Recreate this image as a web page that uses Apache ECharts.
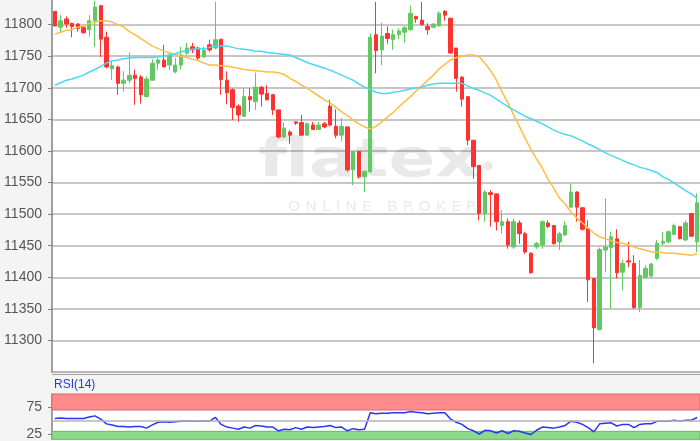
<!DOCTYPE html>
<html><head><meta charset="utf-8">
<script src="https://cdn.jsdelivr.net/npm/echarts@6/dist/echarts.min.js"></script>
<style>html,body{margin:0;padding:0;background:#f4f4f4}#c{width:700px;height:441px}</style>
</head><body><div id="c"></div>
<script>
// [open, close, low, high]
const candles = [
[11821,11798,11797,11821],[11796,11806,11787,11815],[11809,11801,11795,11813],[11802,11797,11780,11803],
[11801,11794,11789,11802],[11796,11787,11786,11798],[11792,11806,11781,11815],[11806,11828,11765,11838],
[11830,11777,11749,11830],[11780,11733,11731,11789],[11730,11735,11712,11743],[11733,11707,11689,11735],
[11707,11712,11694,11726],[11712,11720,11707,11756],[11720,11715,11673,11729],[11717,11689,11675,11720],
[11686,11714,11685,11718],[11712,11739,11711,11745],[11739,11744,11728,11747],[11744,11733,11733,11768],
[11736,11752,11728,11755],[11725,11736,11723,11747],[11736,11752,11729,11765],[11755,11763,11752,11771],
[11765,11760,11755,11771],[11763,11747,11744,11765],[11749,11760,11747,11765],[11768,11760,11757,11776],
[11763,11776,11761,11836],[11777,11713,11689,11777],[11712,11692,11674,11726],[11697,11669,11649,11699],
[11671,11657,11646,11674],[11655,11686,11654,11699],[11686,11681,11662,11699],[11678,11701,11665,11724],
[11701,11690,11670,11703],[11691,11681,11680,11704],[11689,11665,11657,11690],[11665,11622,11620,11665],
[11622,11636,11620,11645],[11630,11625,11611,11633],[11646,11644,11641,11647],[11645,11625,11624,11657],
[11625,11643,11624,11645],[11641,11634,11633,11646],[11634,11641,11633,11646],[11643,11638,11636,11646],
[11671,11641,11639,11681],[11639,11625,11620,11666],[11625,11639,11615,11652],[11638,11570,11567,11639],
[11570,11599,11546,11600],[11599,11559,11556,11599],[11559,11568,11535,11569],[11567,11780,11565,11786],
[11784,11759,11723,11836],[11760,11782,11736,11803],[11786,11778,11770,11797],[11776,11784,11760,11792],
[11784,11790,11777,11794],[11788,11795,11771,11798],[11792,11818,11790,11830],[11813,11809,11803,11814],
[11807,11800,11798,11836],[11797,11792,11784,11802],[11796,11801,11794,11802],[11798,11818,11797,11821],
[11821,11815,11806,11823],[11810,11755,11754,11811],[11763,11715,11694,11763],[11717,11682,11670,11718],
[11686,11617,11609,11686],[11617,11575,11556,11617],[11577,11501,11490,11578],[11501,11535,11488,11538],
[11534,11531,11480,11538],[11532,11488,11474,11533],[11482,11488,11469,11506],[11488,11451,11445,11493],
[11448,11488,11445,11493],[11486,11469,11453,11490],[11469,11440,11437,11472],[11438,11407,11406,11440],
[11448,11453,11445,11456],[11451,11488,11445,11490],[11486,11480,11478,11490],[11482,11453,11452,11483],
[11456,11469,11443,11472],[11467,11482,11465,11489],[11511,11535,11510,11548],[11535,11511,11488,11536],
[11510,11476,11474,11511],[11477,11396,11361,11490],[11398,11320,11264,11398],[11317,11444,11316,11447],
[11443,11448,11408,11525],[11447,11464,11350,11472],[11461,11407,11398,11476],[11408,11422,11379,11428],
[11426,11424,11416,11456],[11422,11352,11350,11435],[11352,11403,11345,11427],[11400,11414,11399,11419],
[11402,11421,11399,11422],[11430,11454,11427,11459],[11454,11457,11451,11472],[11456,11472,11454,11474],
[11468,11482,11466,11485],[11480,11461,11460,11481],[11459,11486,11457,11490],[11501,11465,11464,11502],
[11456,11518,11440,11533]
];
const maShort = [
11785,11788,11791,11792,11796,11798,11802,11804,11806,11806,
11804,11800,11796,11789,11784,11778,11772,11766,11762,11758,
11755,11753,11750,11748,11745,11743,11739,11736,11736,11735,
11734,11733,11731,11729,11728,11727,11726,11725,11725,11724,
11721,11715,11710,11704,11699,11693,11687,11681,11676,11669,
11662,11656,11649,11643,11638,11635,11639,11646,11654,11661,
11670,11678,11686,11695,11703,11712,11720,11730,11737,11744,
11748,11750,11752,11752,11749,11739,11727,11712,11693,11676,
11657,11639,11620,11603,11587,11573,11555,11541,11525,11516,
11503,11494,11486,11478,11470,11464,11461,11458,11455,11454,
11451,11448,11445,11443,11440,11440,11439,11438,11438,11437,
11436,11435,11437
];
const maLong = [
11704,11708,11712,11714,11717,11720,11725,11729,11734,11739,
11743,11744,11746,11747,11748,11748,11748,11748,11749,11750,
11752,11754,11757,11759,11761,11762,11762,11764,11766,11766,
11766,11764,11762,11761,11760,11758,11758,11756,11755,11754,
11753,11752,11748,11744,11740,11737,11734,11731,11728,11724,
11720,11716,11712,11706,11701,11697,11693,11691,11691,11693,
11694,11696,11698,11700,11701,11704,11706,11707,11707,11707,
11707,11707,11703,11699,11696,11692,11688,11682,11676,11670,
11665,11660,11655,11651,11647,11643,11638,11633,11629,11626,
11624,11620,11616,11611,11607,11602,11597,11593,11589,11585,
11581,11578,11574,11572,11569,11566,11559,11555,11549,11543,
11537,11532,11525
];
const rsi14 = [
54,55,54,54,54,54,57,59,53,44,
42,39,39,38,39,39,36,42,47,48,
47,48,49,50,49,49,50,49,56,43,
38,36,34,38,36,41,40,38,38,31,
34,33,37,34,38,37,38,39,41,37,
38,31,35,33,34,65,63,64,64,65,
65,65,67,66,65,63,64,65,65,53,
47,43,35,31,25,32,31,27,31,26,
31,30,27,24,32,38,37,36,38,41,
49,47,43,37,29,44,45,46,40,43,
43,37,43,44,44,49,49,49,51,49,
51,51,56
];
const priceTicks = [11300, 11350, 11400, 11450, 11500, 11550, 11600, 11650, 11700, 11750, 11800];
const rsiTicks = [25, 75];
const rsiMid = 50;
const overbought = [70, 100];
const oversold = [0, 30];
const categories = candles.map((_, i) => 'T' + (i + 1));

const chart = echarts.init(document.getElementById('c'), null, {renderer: 'canvas'});
const font = 'Liberation Sans, Arial, sans-serif';
const wm = 'rgba(0,0,0,0.085)';
chart.setOption({
  animation: false,
  backgroundColor: '#f4f4f4',
  grid: [
    {left: 52, right: 0, top: 0, height: 372, show: true, backgroundColor: '#fff', borderWidth: 0},
    {left: 52, right: 0, top: 394, bottom: 0, show: true, backgroundColor: '#fff', borderWidth: 0}
  ],
  graphic: [
    {type: 'text', z: 1, silent: true, x: 258, y: 162, scaleX: 1.3,
     style: {text: 'flatex', x: 0, y: 0, fill: wm, font: 'bold 53px "DejaVu Sans", sans-serif', verticalAlign: 'middle'}},
    {type: 'circle', z: 1, silent: true, shape: {cx: 488, cy: 166, r: 4.5}, style: {fill: wm}},
    {type: 'text', z: 1, silent: true, x: 288, y: 207, scaleX: 1.12,
     style: {text: 'O N L I N E   B R O K E R', x: 0, y: 0, fill: wm, font: '14px "DejaVu Sans", sans-serif', verticalAlign: 'middle'}},
    {type: 'text', z: 5, silent: true, style: {text: 'RSI(14)', x: 54, y: 385, fill: '#2b35f0', font: '12px ' + font, verticalAlign: 'middle'}},
    {type: 'line', z: 5, silent: true, shape: {x1: 52, y1: 374.5, x2: 700, y2: 374.5}, style: {stroke: '#a0a0a0', lineWidth: 1}}
  ],
  xAxis: [
    {type: 'category', data: categories, gridIndex: 0, boundaryGap: true,
     axisLabel: {show: false}, axisTick: {show: false},
     axisLine: {show: true, lineStyle: {color: '#a0a0a0', width: 1.5}}, splitLine: {show: false}},
    {type: 'category', data: categories, gridIndex: 1, boundaryGap: true,
     axisLabel: {show: false}, axisTick: {show: false}, axisLine: {show: false}, splitLine: {show: false}}
  ],
  yAxis: [
    {type: 'value', gridIndex: 0, min: 11250, max: 11839,
     axisLine: {show: true, lineStyle: {color: '#808080', width: 1.5}},
     axisTick: {show: true, length: 4, customValues: priceTicks, lineStyle: {color: '#808080'}},
     axisLabel: {color: '#555', fontSize: 14, fontFamily: font, margin: 10, customValues: priceTicks,
       formatter: v => String(v)},
     splitLine: {show: true, lineStyle: {color: '#b4b4b4', width: 1.5}}},
    {type: 'value', gridIndex: 1, min: 15, max: 100,
     axisLine: {show: true, lineStyle: {color: '#808080', width: 1.5}},
     axisTick: {show: true, length: 4, customValues: rsiTicks, lineStyle: {color: '#808080'}},
     axisLabel: {color: '#555', fontSize: 14, fontFamily: font, margin: 10, customValues: rsiTicks,
       formatter: v => String(v)},
     splitLine: {show: false}}
  ],
  series: [
    {type: 'candlestick', xAxisIndex: 0, yAxisIndex: 0, data: candles, barWidth: '68%', z: 3,
     itemStyle: {color: '#62c962', color0: '#ff3232', borderColor: '#62c962', borderColor0: '#ff3232', borderWidth: 1}},
    {type: 'line', xAxisIndex: 0, yAxisIndex: 0, data: maShort, symbol: 'none', z: 4,
     lineStyle: {color: '#ffbd45', width: 1.5}},
    {type: 'line', xAxisIndex: 0, yAxisIndex: 0, data: maLong, symbol: 'none', z: 4,
     lineStyle: {color: '#4cd8f4', width: 1.5}},
    {type: 'line', xAxisIndex: 1, yAxisIndex: 1, data: rsi14, symbol: 'none', z: 4,
     lineStyle: {color: '#2b35f0', width: 1.5},
     markLine: {silent: true, symbol: 'none', label: {show: false},
       lineStyle: {color: '#b4b4b4', width: 1.5, type: 'solid'}, data: [{yAxis: rsiMid}]},
     markArea: {silent: true, data: [
       [{yAxis: overbought[0], itemStyle: {color: '#ff8c8c', borderColor: '#e06868', borderWidth: 1}}, {yAxis: overbought[1]}],
       [{yAxis: oversold[0], itemStyle: {color: '#8cd98c', borderColor: '#5fbf5f', borderWidth: 1}}, {yAxis: oversold[1]}]
     ]}}
  ]
});
</script></body></html>
